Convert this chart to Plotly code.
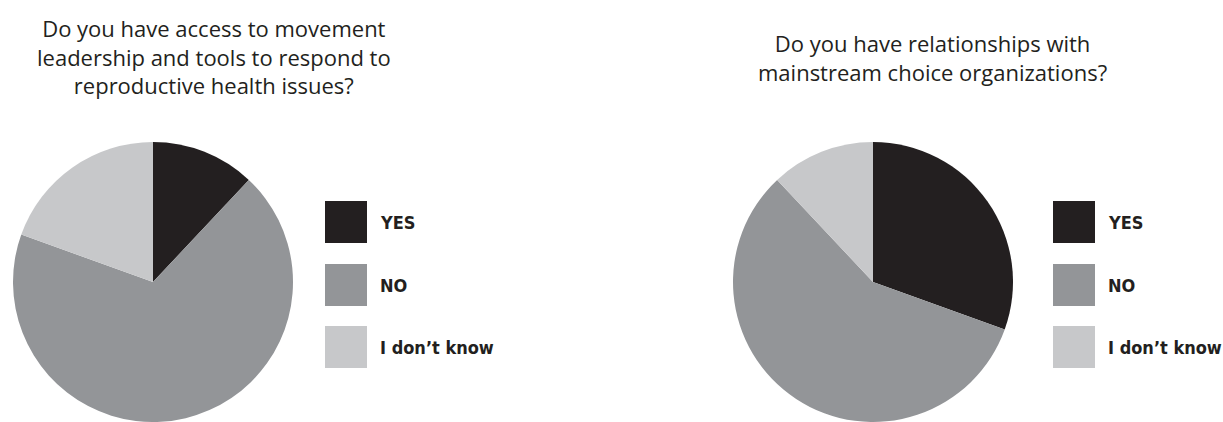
import plotly.graph_objects as go

W, H = 1223, 422

categories = ["YES", "NO", "I don\u2019t know"]
access_values = [12.0, 68.5, 19.5]
relationship_values = [30.5, 57.5, 12.0]
titles = [
    "Do you have access to movement<br>leadership and tools to respond to<br>reproductive health issues?",
    "Do you have relationships with<br>mainstream choice organizations?",
]
colors = ["#231f20", "#939598", "#c7c8ca"]

fig = go.Figure()

def px_x(x):
    return x / W

def px_y(y):
    return 1 - y / H

pie_domains = [(13, 293), (733, 1013)]
for vals, (x0, x1) in zip([access_values, relationship_values], pie_domains):
    fig.add_trace(go.Pie(
        labels=categories, values=vals, sort=False, direction="clockwise",
        rotation=0, textinfo="none", hoverinfo="label+percent",
        marker=dict(colors=colors, line=dict(width=0)),
        domain=dict(x=[px_x(x0), px_x(x1)], y=[0, 280 / H]),
        showlegend=False,
    ))

title_font = dict(family="'Open Sans', Lato, sans-serif", size=22, color="#231f20")
fig.add_annotation(text=titles[0], x=px_x(214), y=px_y(56), xref="paper", yref="paper",
                   xanchor="center", yanchor="middle", showarrow=False, font=title_font, align="center")
fig.add_annotation(text=titles[1], x=px_x(932), y=px_y(58), xref="paper", yref="paper",
                   xanchor="center", yanchor="middle", showarrow=False, font=title_font, align="center")

legend_font = dict(family="'DejaVu Sans Condensed', 'Liberation Sans Narrow', sans-serif",
                   size=18, color="#231f20")
legend_x = [325, 1053]
row_tops = [201, 264, 326]
for lx in legend_x:
    for cat, col, top in zip(categories, colors, row_tops):
        fig.add_shape(type="rect", xref="paper", yref="paper",
                      x0=px_x(lx), x1=px_x(lx + 42), y0=px_y(top + 42), y1=px_y(top),
                      fillcolor=col, line=dict(width=0))
        fig.add_annotation(text="<b>" + cat + "</b>", x=px_x(lx + 53), y=px_y(top + 21),
                           xref="paper", yref="paper", xanchor="left", yanchor="middle",
                           showarrow=False, font=legend_font)

fig.update_layout(width=W, height=H, margin=dict(l=0, r=0, t=0, b=0),
                  paper_bgcolor="white", plot_bgcolor="white")
fig.write_html("out.html", config={"displayModeBar": False},
               post_script="document.body.style.margin='0';")
